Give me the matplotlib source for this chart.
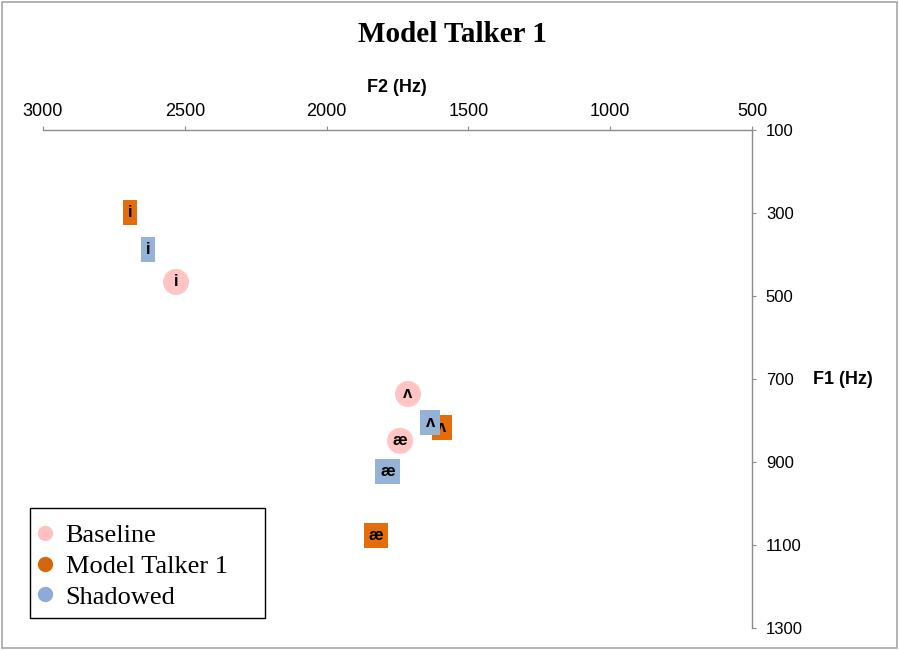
import matplotlib.pyplot as plt
from matplotlib.lines import Line2D
from matplotlib.patches import Rectangle

# vowel formant values (Hz)
vowels = ["i", "\u028c", "\u00e6"]
baseline_f2 = [2531, 1713, 1741]
baseline_f1 = [466, 736, 849]
model_f2 = [2693, 1593, 1826]
model_f1 = [298, 816, 1078]
shadowed_f2 = [2630, 1635, 1784]
shadowed_f1 = [389, 804, 922]

x_ticks = [3000, 2500, 2000, 1500, 1000, 500]
y_ticks = [100, 300, 500, 700, 900, 1100, 1300]

pink = "#ffc4c4"
orange = "#e46c0a"
blue = "#95b3d7"

fig = plt.figure(figsize=(8.99, 6.5), dpi=100)
ax = fig.add_axes([43 / 899, 1 - 628 / 650, (752 - 43) / 899, (628 - 130) / 650])
ax.set_xlim(3000, 500)
ax.set_ylim(1300, 100)

for s in ["bottom", "left"]:
    ax.spines[s].set_visible(False)
for s in ["top", "right"]:
    ax.spines[s].set_color("#8c8c8c")
    ax.spines[s].set_linewidth(1.0)

ax.xaxis.tick_top()
ax.yaxis.tick_right()
ax.set_xticks(x_ticks)
ax.set_yticks(y_ticks)
ax.set_xticklabels([str(v) for v in x_ticks], family="Liberation Sans", fontsize=13)
ax.set_yticklabels([str(v) for v in y_ticks], family="Liberation Sans", fontsize=12)
ax.tick_params(axis="x", direction="out", length=3, pad=4.5, color="#8c8c8c")
ax.tick_params(axis="y", direction="out", length=3, pad=7, color="#8c8c8c")

txt = dict(family="Liberation Sans", fontweight="bold", fontsize=12,
           ha="center", va="center", zorder=5)

# model talker boxes (drawn first, shadowed boxes sit on top)
for f2, f1, v in zip(model_f2, model_f1, vowels):
    ax.text(f2, f1, v, bbox=dict(boxstyle="square,pad=0.3", fc=orange, ec="none"), **txt)

ax.scatter(baseline_f2, baseline_f1, s=350, color=pink, edgecolors="none", zorder=4)
for f2, f1, v in zip(baseline_f2, baseline_f1, vowels):
    ax.text(f2, f1, v, **txt)

for f2, f1, v in zip(shadowed_f2, shadowed_f1, vowels):
    ax.text(f2, f1, v, bbox=dict(boxstyle="square,pad=0.3", fc=blue, ec="none"), **txt)

fig.text(452 / 899, 1 - 35 / 650, "Model Talker 1", family="Liberation Serif",
         fontweight="bold", fontsize=21, ha="center", va="center")
fig.text(397 / 899, 1 - 87 / 650, "F2 (Hz)", family="Liberation Sans",
         fontweight="bold", fontsize=13, ha="center", va="center")
fig.text(813 / 899, 1 - 379 / 650, "F1 (Hz)", family="Liberation Sans",
         fontweight="bold", fontsize=13, ha="left", va="center")

handles = [
    Line2D([], [], ls="none", marker="o", ms=11, color="#ffc0c0", mec="none"),
    Line2D([], [], ls="none", marker="o", ms=11, color="#d4660c", mec="none"),
    Line2D([], [], ls="none", marker="o", ms=11, color="#8eaadb", mec="none"),
]
fig.legend(handles, ["Baseline", "Model Talker 1", "Shadowed"],
           loc="upper left", bbox_to_anchor=(34 / 899, 1 - 524 / 650),
           prop={"family": "Liberation Serif", "size": 19},
           frameon=False, handletextpad=0.4, handlelength=0.8,
           labelspacing=0.27, borderpad=0, borderaxespad=0)
# legend box is wider than its entries, as in the original
fig.patches.append(Rectangle((30 / 899, 1 - 618 / 650), 235 / 899, 110 / 650,
                             transform=fig.transFigure, fill=False,
                             ec="black", lw=1.0))

fig.patches.append(Rectangle((2 / 899, 2 / 650), 895 / 899, 646 / 650,
                             transform=fig.transFigure, fill=False,
                             ec="#a6a6a6", lw=1.2))

fig.savefig("out.png", dpi=100)
